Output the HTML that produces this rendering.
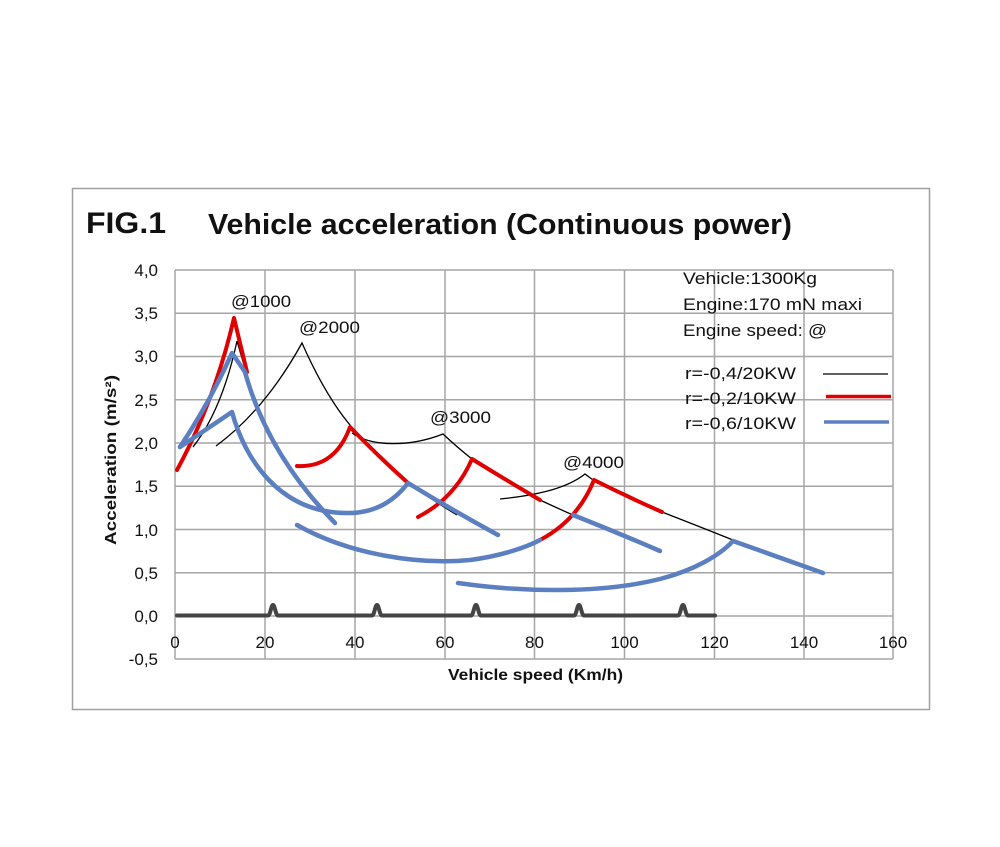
<!DOCTYPE html>
<html><head><meta charset="utf-8"><style>
html,body{margin:0;padding:0;background:#fff;}
svg{display:block;}
text{font-family:"Liberation Sans",sans-serif;fill:#111;}
</style></head><body>
<svg width="1000" height="847" viewBox="0 0 1000 847" xmlns="http://www.w3.org/2000/svg">
<rect x="0" y="0" width="1000" height="847" fill="#fff"/>
<rect x="72.5" y="188.5" width="857" height="521" fill="none" stroke="#a0a0a0" stroke-width="1.5"/>
<!-- title -->
<text x="86" y="233" font-size="30" font-weight="bold" textLength="80" lengthAdjust="spacingAndGlyphs">FIG.1</text>
<text x="208" y="234" font-size="29" font-weight="bold" textLength="584" lengthAdjust="spacingAndGlyphs">Vehicle acceleration (Continuous power)</text>
<!-- grid -->
<g stroke="#a6a6a6" stroke-width="1.5">
<line x1="175" y1="270" x2="893" y2="270"/>
<line x1="175" y1="313.2" x2="893" y2="313.2"/>
<line x1="175" y1="356.5" x2="893" y2="356.5"/>
<line x1="175" y1="399.7" x2="893" y2="399.7"/>
<line x1="175" y1="443" x2="893" y2="443"/>
<line x1="175" y1="486.2" x2="893" y2="486.2"/>
<line x1="175" y1="529.5" x2="893" y2="529.5"/>
<line x1="175" y1="572.7" x2="893" y2="572.7"/>
<line x1="175" y1="616" x2="893" y2="616"/>
<line x1="175" y1="659" x2="893" y2="659"/>
<line x1="175" y1="270" x2="175" y2="659"/>
<line x1="265" y1="270" x2="265" y2="659"/>
<line x1="355" y1="270" x2="355" y2="659"/>
<line x1="445" y1="270" x2="445" y2="659"/>
<line x1="534.5" y1="270" x2="534.5" y2="659"/>
<line x1="624.5" y1="270" x2="624.5" y2="659"/>
<line x1="714.5" y1="270" x2="714.5" y2="659"/>
<line x1="804" y1="270" x2="804" y2="659"/>
<line x1="893" y1="270" x2="893" y2="659"/>
</g>
<!-- y tick labels -->
<g font-size="17" text-anchor="end">
<text x="158" y="276">4,0</text>
<text x="158" y="319">3,5</text>
<text x="158" y="362">3,0</text>
<text x="158" y="406">2,5</text>
<text x="158" y="449">2,0</text>
<text x="158" y="492">1,5</text>
<text x="158" y="536">1,0</text>
<text x="158" y="579">0,5</text>
<text x="158" y="622">0,0</text>
<text x="158" y="665">-0,5</text>
</g>
<!-- x tick labels -->
<g font-size="17" text-anchor="middle">
<text x="175" y="648">0</text>
<text x="265" y="648">20</text>
<text x="355" y="648">40</text>
<text x="445" y="648">60</text>
<text x="534.5" y="648">80</text>
<text x="624.5" y="648">100</text>
<text x="714.5" y="648">120</text>
<text x="804" y="648">140</text>
<text x="893" y="648">160</text>
</g>
<!-- axis titles -->
<text x="535.5" y="680" font-size="15.5" font-weight="bold" text-anchor="middle" textLength="175" lengthAdjust="spacingAndGlyphs">Vehicle speed (Km/h)</text>
<text transform="translate(116,460) rotate(-90)" x="0" y="0" font-size="15.5" font-weight="bold" text-anchor="middle" textLength="170" lengthAdjust="spacingAndGlyphs">Acceleration (m/s²)</text>
<!-- baseline with bumps -->
<path d="M177,615.5 L268,615.5 C270.5,615.5 271,605 273,605 C275,605 275.5,615.5 278,615.5 L372,615.5 C374.5,615.5 375,605 377,605 C379,605 379.5,615.5 382,615.5 L471,615.5 C473.5,615.5 474,605 476,605 C478,605 478.5,615.5 481,615.5 L574,615.5 C576.5,615.5 577,605 579,605 C581,605 581.5,615.5 584,615.5 L678,615.5 C680.5,615.5 681,605 683,605 C685,605 685.5,615.5 688,615.5 L715,615.5" fill="none" stroke="#444" stroke-width="4" stroke-linecap="round" stroke-linejoin="round"/>
<!-- black series -->
<g fill="none" stroke="#000" stroke-width="1.3">
<path d="M193,447 Q222,410 237,341 L246,372"/>
<path d="M216,446 Q265,410 302,343 Q325,395 350,425 Q380,462 408,483 Q432,500 457,515"/>
<path d="M352,433 C372,447 410,447 443,434 Q458,448 472,459 Q505,482 540,500 Q557,508 573,515"/>
<path d="M500,499 C530,496 565,490 585,474 L593,480 Q628,497 662,512 Q698,526 733,540"/>
</g>
<!-- red series -->
<g fill="none" stroke="#e00000" stroke-width="4" stroke-linecap="round" stroke-linejoin="round">
<path d="M177,470 Q215,400 234,318 L247,372"/>
<path d="M297,466 Q335,468 350,427 Q380,458 407,482"/>
<path d="M418,517 Q455,498 472,459 Q506,480 540,500"/>
<path d="M540,540 Q578,520 594,480 Q628,497 662,512"/>
</g>
<!-- blue series -->
<g fill="none" stroke="#5b7fc0" stroke-width="4.5" stroke-linecap="round" stroke-linejoin="round">
<path d="M180,447 Q210,402 232,353 L245,372 Q268,455 335,523"/>
<path d="M180,447 L232,412 C245,460 280,512 345,513 C375,514 395,500 408,483 Q452,510 498,535"/>
<path d="M297,525 C350,555 420,565 470,560 C500,556 525,548 540,540"/>
<path d="M573,515 Q616,532 660,551"/>
<path d="M458,583 C520,592 600,594 660,579 C695,570 720,555 733,541 L823,573"/>
</g>
<!-- annotations -->
<g font-size="17">
<text x="231" y="307" textLength="60" lengthAdjust="spacingAndGlyphs">@1000</text>
<text x="299" y="333" textLength="61" lengthAdjust="spacingAndGlyphs">@2000</text>
<text x="430" y="423" textLength="61" lengthAdjust="spacingAndGlyphs">@3000</text>
<text x="563" y="468" textLength="61" lengthAdjust="spacingAndGlyphs">@4000</text>
</g>
<!-- legend -->
<g font-size="17">
<text x="683" y="284" textLength="134" lengthAdjust="spacingAndGlyphs">Vehicle:1300Kg</text>
<text x="683" y="310" textLength="179" lengthAdjust="spacingAndGlyphs">Engine:170 mN maxi</text>
<text x="683" y="336" textLength="144" lengthAdjust="spacingAndGlyphs">Engine speed: @</text>
<text x="685" y="379" textLength="111" lengthAdjust="spacingAndGlyphs">r=-0,4/20KW</text>
<text x="685" y="404" textLength="111" lengthAdjust="spacingAndGlyphs">r=-0,2/10KW</text>
<text x="685" y="429" textLength="111" lengthAdjust="spacingAndGlyphs">r=-0,6/10KW</text>
</g>
<line x1="823" y1="374" x2="888" y2="374" stroke="#000" stroke-width="1.3"/>
<line x1="826" y1="396.5" x2="891" y2="396.5" stroke="#e00000" stroke-width="3.5"/>
<line x1="824" y1="422" x2="889" y2="422" stroke="#5b7fc0" stroke-width="3.5"/>
</svg>
</body></html>
